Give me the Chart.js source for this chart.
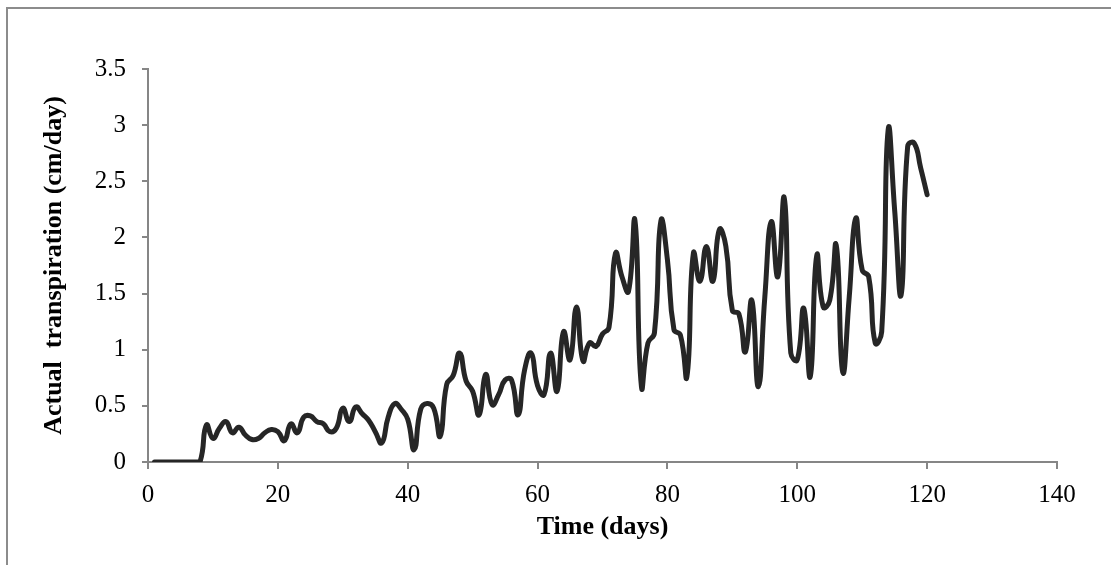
<!DOCTYPE html>
<html>
<head>
<meta charset="utf-8">
<script src="https://cdn.jsdelivr.net/npm/chart.js@4"></script>
<style>
    html, body { margin: 0; padding: 0; background: #fff; }
    #wrap { position: relative; width: 1111px; height: 565px; }
    #frame {
        position: absolute; left: 6px; top: 7px; right: 0; bottom: 0;
        border-top: 2px solid #8c8c8c; border-left: 2px solid #8c8c8c;
        pointer-events: none;
    }
</style>
</head>
<body>
<div id="wrap">
    <canvas id="chart" width="1111" height="565"></canvas>
    <div id="frame"></div>
</div>
<script>
// ── Data (daily values, cm/day) ──
const days = [
    1, 2, 3, 4, 5, 6, 7, 8, 9, 10, 11, 12, 13, 14, 15, 16, 17, 18, 19, 20,
    21, 22, 23, 24, 25, 26, 27, 28, 29, 30, 31, 32, 33, 34, 35, 36, 37, 38, 39, 40,
    41, 42, 43, 44, 45, 46, 47, 48, 49, 50, 51, 52, 53, 54, 55, 56, 57, 58, 59, 60,
    61, 62, 63, 64, 65, 66, 67, 68, 69, 70, 71, 72, 73, 74, 75, 76, 77, 78, 79, 80,
    81, 82, 83, 84, 85, 86, 87, 88, 89, 90, 91, 92, 93, 94, 95, 96, 97, 98, 99, 100,
    101, 102, 103, 104, 105, 106, 107, 108, 109, 110, 111, 112, 113, 114, 115, 116, 117, 118, 119, 120
];
const transpiration = [
    0, 0, 0, 0, 0, 0, 0, 0, 0.33, 0.21, 0.30, 0.36, 0.26, 0.31, 0.24, 0.20, 0.21, 0.26, 0.29, 0.27,
    0.19, 0.34, 0.26, 0.40, 0.41, 0.36, 0.34, 0.27, 0.30, 0.48, 0.36, 0.49, 0.43, 0.37, 0.27, 0.17, 0.40, 0.52, 0.47, 0.38,
    0.11, 0.47, 0.52, 0.48, 0.23, 0.69, 0.77, 0.97, 0.72, 0.63, 0.42, 0.78, 0.51, 0.60, 0.73, 0.73, 0.42, 0.82, 0.97, 0.68,
    0.60, 0.97, 0.63, 1.16, 0.91, 1.38, 0.90, 1.06, 1.03, 1.14, 1.20, 1.86, 1.65, 1.52, 2.15, 0.67, 1.06, 1.15, 2.15, 1.80,
    1.18, 1.13, 0.76, 1.86, 1.61, 1.92, 1.61, 2.07, 1.92, 1.35, 1.32, 0.98, 1.44, 0.67, 1.47, 2.14, 1.65, 2.35, 0.97, 0.91,
    1.37, 0.76, 1.84, 1.38, 1.44, 1.93, 0.80, 1.47, 2.17, 1.71, 1.65, 1.06, 1.16, 2.96, 2.24, 1.49, 2.81, 2.84, 2.62, 2.38
];
const xTicks = [0, 20, 40, 60, 80, 100, 120, 140];
const yTicks = [0, 0.5, 1, 1.5, 2, 2.5, 3, 3.5];

const axisGray = '#868686';
const serif = "'Liberation Serif', 'Times New Roman', serif";

const points = days.map((d, i) => ({ x: d, y: transpiration[i] }));

new Chart(document.getElementById('chart'), {
    type: 'line',
    data: {
        datasets: [{
            label: 'Actual transpiration',
            data: points,
            borderColor: '#262626',
            borderWidth: 5,
            borderCapStyle: 'round',
            borderJoinStyle: 'round',
            tension: 0.5,
            pointRadius: 0,
            fill: false
        }]
    },
    options: {
        responsive: false,
        animation: false,
        layout: { padding: { top: 69, right: 54, left: 0, bottom: 0 } },
        plugins: { legend: { display: false }, tooltip: { enabled: false } },
        scales: {
            x: {
                type: 'linear',
                min: xTicks[0],
                max: xTicks[xTicks.length - 1],
                afterBuildTicks: s => { s.ticks = xTicks.map(v => ({ value: v })); },
                afterFit: s => { s.height = 103; },
                grid: { display: true, drawOnChartArea: false, drawTicks: true, tickLength: 7, color: axisGray, lineWidth: 2 },
                border: { color: axisGray, width: 2 },
                ticks: { color: '#000', padding: 11, maxRotation: 0, font: { family: serif, size: 25 },
                         callback: v => String(v) },
                title: {
                    display: true, text: 'Time (days)', color: '#000',
                    padding: { top: 0, bottom: 22 },
                    font: { family: serif, size: 26, weight: 'bold' }
                }
            },
            y: {
                min: yTicks[0],
                max: yTicks[yTicks.length - 1],
                afterBuildTicks: s => { s.ticks = yTicks.map(v => ({ value: v })); },
                afterFit: s => { s.width = 148; },
                grid: { display: true, drawOnChartArea: false, drawTicks: true, tickLength: 6, color: axisGray, lineWidth: 2 },
                border: { color: axisGray, width: 2 },
                ticks: { color: '#000', padding: 16, font: { family: serif, size: 25 },
                         callback: v => String(v) },
                title: {
                    display: true, text: 'Actual  transpiration (cm/day)', color: '#000',
                    padding: { top: 39, bottom: 0 },
                    font: { family: serif, size: 26, weight: 'bold' }
                }
            }
        }
    }
});
</script>
</body>
</html>
